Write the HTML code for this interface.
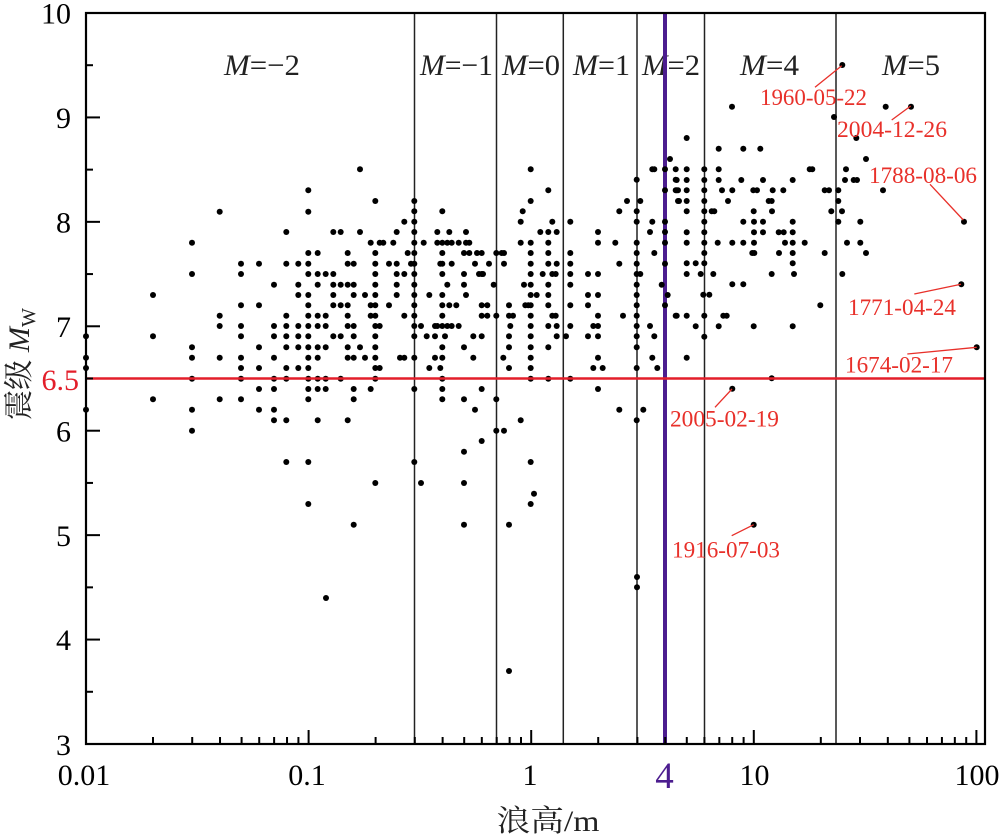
<!DOCTYPE html>
<html>
<head>
<meta charset="utf-8">
<style>
html,body{margin:0;padding:0;background:#fff;}
svg{display:block;}
text{font-family:"Liberation Serif","Noto Serif CJK SC",serif;}
</style>
</head>
<body>
<svg id="s" xmlns="http://www.w3.org/2000/svg" width="1000" height="837" viewBox="0 0 1000 837">
<rect x="0" y="0" width="1000" height="837" fill="#fff"/>
<g id="vlines" stroke="#222" stroke-width="1.5">
<line x1="414.5" y1="13" x2="414.5" y2="744"/>
<line x1="496.5" y1="13" x2="496.5" y2="744"/>
<line x1="563.3" y1="13" x2="563.3" y2="744"/>
<line x1="637" y1="13" x2="637" y2="744"/>
<line x1="704.5" y1="13" x2="704.5" y2="744"/>
<line x1="836" y1="13" x2="836" y2="744"/>
</g>
<g fill="#222" font-size="30">
<text x="224" y="75" textLength="76" lengthAdjust="spacingAndGlyphs"><tspan font-style="italic">M</tspan>=−2</text>
<text x="420" y="75" textLength="73" lengthAdjust="spacingAndGlyphs"><tspan font-style="italic">M</tspan>=−1</text>
<text x="502" y="75" textLength="58" lengthAdjust="spacingAndGlyphs"><tspan font-style="italic">M</tspan>=0</text>
<text x="573" y="75" textLength="57" lengthAdjust="spacingAndGlyphs"><tspan font-style="italic">M</tspan>=1</text>
<text x="642" y="75" textLength="58" lengthAdjust="spacingAndGlyphs"><tspan font-style="italic">M</tspan>=2</text>
<text x="740" y="75" textLength="59" lengthAdjust="spacingAndGlyphs"><tspan font-style="italic">M</tspan>=4</text>
<text x="882" y="75" textLength="58" lengthAdjust="spacingAndGlyphs"><tspan font-style="italic">M</tspan>=5</text>
</g>
<line x1="665" y1="13" x2="665" y2="744" stroke="#4c1d8f" stroke-width="4"/>
<g id="dots" fill="#000"></g>
<line x1="86" y1="378.5" x2="985" y2="378.5" stroke="#e31e2a" stroke-width="2.5"/>
<g stroke="#e8302a" stroke-width="1.3">
<line x1="815" y1="87.3" x2="841.7" y2="65.7"/>
<line x1="891.7" y1="120" x2="910.7" y2="106"/>
<line x1="930" y1="184.3" x2="963.3" y2="220"/>
<line x1="914.3" y1="294" x2="961" y2="284.3"/>
<line x1="907.3" y1="354" x2="976.7" y2="347.3"/>
<line x1="715" y1="407.3" x2="732" y2="389"/>
<line x1="731.7" y1="535.7" x2="753.7" y2="524.7"/>
</g>
<g fill="#e8302a" font-size="23">
<text x="760" y="105" textLength="107" lengthAdjust="spacingAndGlyphs">1960-05-22</text>
<text x="837" y="137" textLength="110" lengthAdjust="spacingAndGlyphs">2004-12-26</text>
<text x="869" y="183" textLength="108" lengthAdjust="spacingAndGlyphs">1788-08-06</text>
<text x="848" y="315" textLength="108" lengthAdjust="spacingAndGlyphs">1771-04-24</text>
<text x="845" y="372.7" textLength="108" lengthAdjust="spacingAndGlyphs">1674-02-17</text>
<text x="670" y="426.7" textLength="109" lengthAdjust="spacingAndGlyphs">2005-02-19</text>
<text x="672" y="557.7" textLength="108" lengthAdjust="spacingAndGlyphs">1916-07-03</text>
</g>
<g id="ticks" stroke="#000" stroke-width="2"></g>
<rect x="86" y="13" width="899" height="731" fill="none" stroke="#000" stroke-width="2.2"/>
<g fill="#000" font-size="30" text-anchor="end">
<text x="71" y="23.5">10</text>
<text x="71" y="128">9</text>
<text x="71" y="232.5">8</text>
<text x="71" y="337">7</text>
<text x="71" y="441.5">6</text>
<text x="71" y="546">5</text>
<text x="71" y="650">4</text>
<text x="71" y="755">3</text>
</g>
<text x="79" y="390" font-size="30" text-anchor="end" fill="#e31e2a">6.5</text>
<g fill="#000" font-size="30" text-anchor="middle">
<text x="84" y="785">0.01</text>
<text x="307" y="785">0.1</text>
<text x="530" y="785">1</text>
<text x="754.5" y="785">10</text>
<text x="977" y="785">100</text>
</g>
<text x="664.5" y="788" font-size="37" text-anchor="middle" fill="#4c1d8f">4</text>
<text x="548" y="831" font-size="30" text-anchor="middle" fill="#222" textLength="103" lengthAdjust="spacingAndGlyphs">浪高/m</text>
<text transform="translate(29,420) rotate(-90)" font-size="30" fill="#222" textLength="112" lengthAdjust="spacingAndGlyphs">震级 <tspan font-style="italic">M</tspan><tspan font-size="20" dy="6">W</tspan></text>
</svg>
<script>
(function(){
var NS="http://www.w3.org/2000/svg";
var pts=[];
function add(ox,oy,rows){for(var i=0;i<rows.length;i++){var zy=rows[i][0],xs=rows[i][1];for(var j=0;j<xs.length;j++)pts.push([ox+xs[j]/3,oy+zy/3]);}}
add(85,150,[
[58,[825]],[121,[670]],[153,[871]],[185,[404,670]],[246,[604,745,767,825]],
[278,[321,857,884,895]],[309,[670,698,788,871]],[341,[468,522,604,640,670,788,806,871]],
[372,[321,468,670,698,722,745,871]],[404,[567,640,698,745,767,788,806,871]],
[435,[204,640,670,745,806,840,871]],[466,[468,522,670,745,767,788,857,871]],
[497,[404,604,670,698,722,788,857,871]],[528,[404,468,567,604,640,670,698,722,788,806,871,884]],
[559,[3,204,468,567,604,640,670,745,767,806,871]],[592,[321,522,604,640,670,698,722,788,825,871]],
[623,[3,321,404,468,567,670,698,788,806,840,871]],[654,[3,468,522,604,640,670,871,884]],
[686,[321,468,567,604,670,698,722,767,871]],[717,[522,567,670,698,722,806,857]],
[748,[204,404,468,670,806]],[779,[3,321,522,567]],[811,[567,604,698,788]],[842,[321]],[936,[604,670]]
]);
add(380,150,[
[27,[870]],[58,[452,817,823,855,887]],[89,[770,887]],[121,[505,855,887,894]],
[153,[103,452,741,781,894]],[184,[103,187,428,718,770]],[215,[73,103,422,517,571,770,817,855]],
[246,[50,103,172,208,258,481,505,530,654,810,855]],
[278,[40,103,131,172,187,202,215,236,258,268,422,452,505,654,706,770,855]],
[309,[83,103,187,252,268,291,305,349,365,372,452,505,571,770,823]],
[341,[27,50,93,103,181,187,215,285,327,372,452,505,530,571,718,770,855]],
[372,[50,73,103,187,252,297,305,309,452,488,517,527,571,624,654,770,781]],
[404,[50,103,202,252,341,432,452,505,571,770,845]],
[435,[50,103,148,187,258,452,470,505,624,654,770,863]],
[466,[27,103,187,208,229,305,322,387,436,445,452,505,571,624,770,855]],
[497,[73,103,187,305,322,349,387,399,452,517,527,654,729,770,887]],
[528,[103,123,165,172,187,202,215,236,391,452,505,530,571,640,654,770,810]],
[559,[103,140,165,195,280,305,387,452,530,558,624,654,770,823]],
[592,[187,252,387,452,505,770]],[623,[60,73,103,165,187,280,370,452,654,817]],
[654,[148,181,387,452,640,668,770,832]],[686,[187,452,505,571]],[717,[103,187,305,654]],
[748,[187,252,349]],[779,[285,718,790]],[811,[422,770]],[842,[349,372]],[873,[305]],[905,[252]],[936,[103,452]]
]);
add(675,130,[
[24,[35,544]],[56,[131,205,256]],[87,[573]],[118,[35,88,131,404,412,513]],
[150,[5,35,88,131,199,264,353,510,536,546]],[181,[5,35,88,141,172,235,246,293,325,449,462,490,624]],
[213,[12,35,88,159,281,290,490]],[244,[35,88,110,118,236,291,469,501]],
[275,[88,205,237,264,353,490,556,867]],[307,[35,88,237,264,311,326,353]],
[338,[35,88,128,172,205,237,330,353,389,516,556]],[369,[88,232,238,312,353,449,573]],
[400,[35,62,88,353]],[432,[35,77,115,290,357,502]],[463,[172,205,859]],[494,[85,103]],
[526,[436]],[557,[5,35,88,145,155]],[589,[62,131,236,353]],[620,[88]],[652,[905]],
[683,[35]],[745,[290]],[776,[172]]
]);
var extra=[[842.3,65],[732,106.7],[885.7,106.7],[911,106.7],[834,117],
[375.3,483],[421,483],[464,483],[534,493.7],[308.3,504],[530.7,504],[353.7,524.7],[464,524.7],[509,524.7],[326,598],[509,671],
[753.7,524.7],[637,577],[637,587.3]];
pts=pts.concat(extra);
var g=document.getElementById("dots");
for(var i=0;i<pts.length;i++){var c=document.createElementNS(NS,"circle");c.setAttribute("cx",pts[i][0].toFixed(1));c.setAttribute("cy",pts[i][1].toFixed(1));c.setAttribute("r","3");g.appendChild(c);}
var t=document.getElementById("ticks");
function ln(x1,y1,x2,y2){var l=document.createElementNS(NS,"line");l.setAttribute("x1",x1);l.setAttribute("y1",y1);l.setAttribute("x2",x2);l.setAttribute("y2",y2);t.appendChild(l);}
for(var m=3;m<=10;m++){var y=744-(m-3)*104.43;ln(86,y,100,y);if(m<10){var y2=744-(m-2.5)*104.43;ln(86,y2,93,y2);}}
for(var d=0;d<=4;d++){var x=86+222.6*d;ln(x,744,x,730);if(d<4){for(var k=2;k<=9;k++){var xx=86+222.6*(d+Math.log10(k));ln(xx,744,xx,737);}}}
})();
</script>
</body>
</html>
